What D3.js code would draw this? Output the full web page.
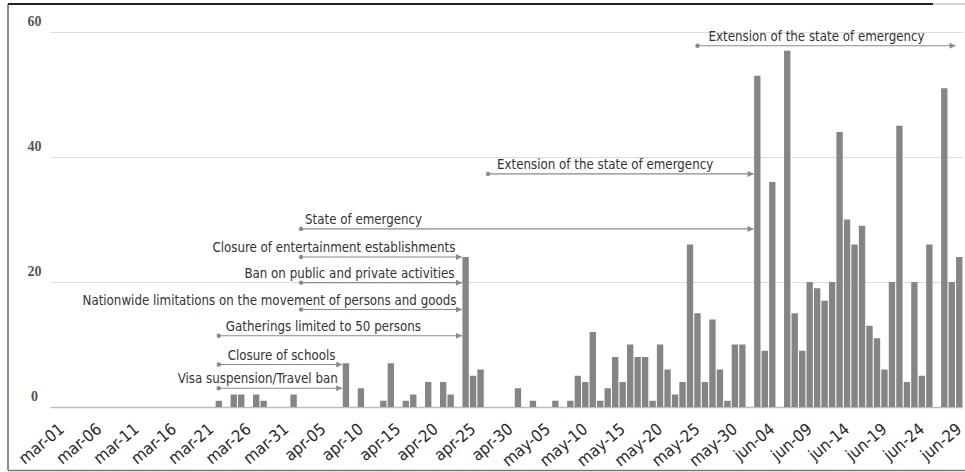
<!DOCTYPE html>
<html>
<head>
<meta charset="utf-8">
<script src="https://cdn.jsdelivr.net/npm/d3@7"></script>
<style>
  html, body { margin: 0; padding: 0; background: #fff; }
  svg { display: block; }
  .grid line { stroke: #dcdcdc; stroke-width: 1.2; }
  .grid .zero line { stroke: #bdbdbd; stroke-width: 1.5; }
  .grid path { display: none; }
  .grid text { font-family: "Liberation Serif", "DejaVu Serif", serif; font-size: 14px; font-weight: bold; fill: #555; }
  .xaxis path { display: none; }
  .xaxis text { font-family: "DejaVu Sans Condensed", "DejaVu Sans", sans-serif; font-stretch: condensed; font-size: 16.5px; fill: #2a2a2a; }
  .bar { fill: #858585; }
  .event line { stroke: #8a8a8a; stroke-width: 1.2; }
  .event circle { fill: #8a8a8a; }
  .event text { font-family: "DejaVu Sans Condensed", "DejaVu Sans", sans-serif; font-stretch: condensed; font-size: 13.2px; fill: #333; }
</style>
</head>
<body>
<div id="canvas-wrapper"></div>
<script>
// daily new cases, 1 March to 30 June
var startDate = "2020-03-01";
var cases = [
  0, 0, 0, 0, 0, 0, 0, 0, 0, 0,
  0, 0, 0, 0, 0, 0, 0, 0, 0, 0,
  0, 0, 1, 0, 2, 2, 0, 2, 1, 0,
  0, 0, 2, 0, 0, 0, 0, 0, 0, 7,
  0, 3, 0, 0, 1, 7, 0, 1, 2, 0,
  4, 0, 4, 2, 0, 24, 5, 6, 0, 0,
  0, 0, 3, 0, 1, 0, 0, 1, 0, 1,
  5, 4, 12, 1, 3, 8, 4, 10, 8, 8,
  1, 10, 6, 2, 4, 26, 15, 4, 14, 6,
  1, 10, 10, 0, 53, 9, 36, 0, 57, 15,
  9, 20, 19, 17, 20, 44, 30, 26, 29, 13,
  11, 6, 20, 45, 4, 20, 5, 26, 0, 51,
  20, 24
];
var tickLabels = [
  "mar-01", "mar-06", "mar-11", "mar-16", "mar-21", "mar-26", "mar-31",
  "apr-05", "apr-10", "apr-15", "apr-20", "apr-25", "apr-30",
  "may-05", "may-10", "may-15", "may-20", "may-25", "may-30",
  "jun-04", "jun-09", "jun-14", "jun-19", "jun-24", "jun-29"
];
var yTicks = [0, 20, 40, 60];

// measures: label, first day, day the arrow runs to, height on the value axis
var eventNames = [
  "Visa suspension/Travel ban",
  "Closure of schools",
  "Gatherings limited to 50 persons",
  "Nationwide limitations on the movement of persons and goods",
  "Ban on public and private activities",
  "Closure of entertainment establishments",
  "State of emergency",
  "Extension of the state of emergency",
  "Extension of the state of emergency"
];
var eventStart = ["mar-23", "mar-23", "mar-23", "apr-03", "apr-03", "apr-03", "apr-03", "apr-28", "may-26"];
var eventEnd   = ["apr-09", "apr-09", "apr-25", "apr-25", "apr-25", "apr-25", "jun-03", "jun-03", "jun-30"];
var eventLevel = [3, 6.8, 11.4, 15.6, 19.9, 24, 28.5, 37.3, 57.8];

// where each label sits against its arrow
var labelAnchor = ["end", "start", "start", "end", "end", "end", "start", "start", "start"];
var labelDx     = [-5, 9, 7, -6, -8, -7, 4, 9, 11];

var W = 965, H = 472;
var left = 50.5, right = 963, zeroY = 407, topY = 32;

var parse = d3.timeParse("%Y-%m-%d");
var fmt = d3.timeFormat("%b-%d");
var first = parse(startDate);
var days = d3.timeDay.range(first, d3.timeDay.offset(first, cases.length))
  .map(function(d) { return fmt(d).toLowerCase(); });

var data = days.map(function(d, i) { return {day: d, value: cases[i]}; });

var svg = d3.select("#canvas-wrapper").append("svg")
    .attr("width", W)
    .attr("height", H);

var x = d3.scaleBand()
    .domain(days)
    .range([left, right])
    .paddingInner(0.15)
    .paddingOuter(0.075);

var y = d3.scaleLinear().domain([0, 60]).range([zeroY, topY]);

// frame around the picture
svg.append("line").attr("x1", 8).attr("x2", 8).attr("y1", 4).attr("y2", 470)
    .attr("stroke", "#666").attr("stroke-width", 1.5);
svg.append("line").attr("x1", 8).attr("x2", 933).attr("y1", 4).attr("y2", 4)
    .attr("stroke", "#222").attr("stroke-width", 1.8);
svg.append("line").attr("x1", 933).attr("x2", W).attr("y1", 4).attr("y2", 4)
    .attr("stroke", "#bbb").attr("stroke-width", 1.2);
svg.append("line").attr("x1", 8).attr("x2", W).attr("y1", 470.5).attr("y2", 470.5)
    .attr("stroke", "#777").attr("stroke-width", 1.5);

// gridlines, value labels sit above the lines
var grid = svg.append("g")
    .attr("class", "grid")
    .attr("transform", "translate(" + left + ",0)")
    .call(d3.axisLeft(y).tickValues(yTicks).tickSize(-(right - left)).tickPadding(0));
grid.selectAll(".tick").classed("zero", function(d) { return d === 0; });
grid.selectAll(".tick text")
    .attr("x", -16)
    .attr("dy", "-0.45em")
    .attr("text-anchor", "middle");

// bars
svg.selectAll(".bar")
    .data(data.filter(function(d) { return d.value > 0; }))
  .enter().append("rect")
    .attr("class", "bar")
    .attr("x", function(d) { return x(d.day); })
    .attr("width", x.bandwidth())
    .attr("y", function(d) { return y(d.value); })
    .attr("height", function(d) { return y(0) - y(d.value); });

// date axis
var xAxis = svg.append("g")
    .attr("class", "xaxis")
    .attr("transform", "translate(0," + zeroY + ")")
    .call(d3.axisBottom(x).tickValues(tickLabels).tickSize(0));
xAxis.selectAll(".tick text")
    .attr("x", 0).attr("y", 0).attr("dy", 0)
    .attr("text-anchor", "end")
    .attr("transform", "translate(11,24) rotate(-40)");

// arrow marker
svg.append("defs").append("marker")
    .attr("id", "arrow")
    .attr("viewBox", "0 0 10 10")
    .attr("refX", 10).attr("refY", 5)
    .attr("markerUnits", "userSpaceOnUse")
    .attr("markerWidth", 7).attr("markerHeight", 6)
    .attr("orient", "auto")
  .append("path")
    .attr("d", "M0,0L10,5L0,10Z")
    .attr("fill", "#8a8a8a");

var events = eventNames.map(function(n, i) {
  return {name: n, start: eventStart[i], end: eventEnd[i], level: eventLevel[i],
          anchor: labelAnchor[i], dx: labelDx[i]};
});

var ev = svg.selectAll(".event")
    .data(events)
  .enter().append("g")
    .attr("class", "event");

ev.append("line")
    .attr("x1", function(d) { return x(d.start) + x.bandwidth() / 2; })
    .attr("x2", function(d) { return x(d.end) - 0.5; })
    .attr("y1", function(d) { return y(d.level); })
    .attr("y2", function(d) { return y(d.level); })
    .attr("marker-end", "url(#arrow)");

ev.append("circle")
    .attr("cx", function(d) { return x(d.start) + x.bandwidth() / 2; })
    .attr("cy", function(d) { return y(d.level); })
    .attr("r", 2.2);

ev.append("text")
    .attr("x", function(d) {
      return d.anchor === "end" ? x(d.end) + d.dx : x(d.start) + x.bandwidth() / 2 + d.dx;
    })
    .attr("y", function(d) { return y(d.level) - 5; })
    .attr("text-anchor", function(d) { return d.anchor; })
    .text(function(d) { return d.name; });
</script>
</body>
</html>
